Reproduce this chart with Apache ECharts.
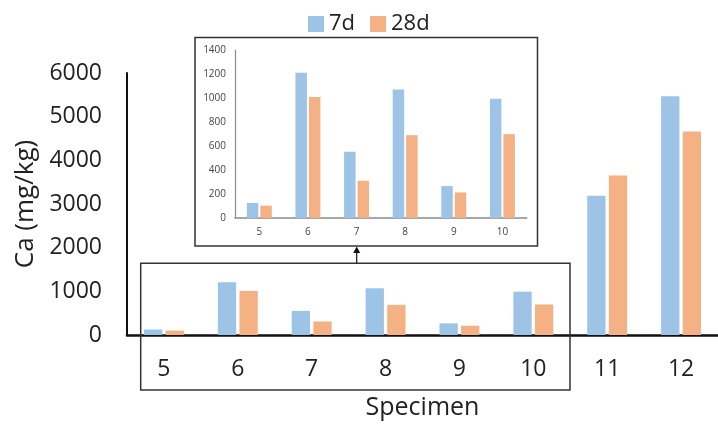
<!DOCTYPE html>
<html>
<head>
<meta charset="utf-8">
<script src="https://cdn.jsdelivr.net/npm/echarts@6/dist/echarts.min.js"></script>
<style>
html,body{margin:0;padding:0;background:#fff;}
#chart{width:718px;height:425px;}
</style>
</head>
<body>
<div id="chart"></div>
<script>
var categories = ['5', '6', '7', '8', '9', '10', '11', '12'];
var insetCategories = ['5', '6', '7', '8', '9', '10'];
var values7d = [125, 1210, 552, 1070, 266, 993, 3190, 5465];
var values28d = [103, 1009, 310, 690, 213, 699, 3655, 4660];
var seriesNames = ['7d', '28d'];
var mainTicks = [0, 1000, 2000, 3000, 4000, 5000, 6000];
var insetTicks = [0, 200, 400, 600, 800, 1000, 1200, 1400];

var BLUE = '#9DC3E6', ORANGE = '#F4B183';
var FONT = 'Open Sans';

var chart = echarts.init(document.getElementById('chart'), null, {renderer: 'canvas'});

function plain(v) { return String(v); }

var option = {
  animation: false,
  backgroundColor: '#ffffff',
  textStyle: {fontFamily: FONT},
  legend: {
    data: seriesNames,
    left: 308,
    top: 13,
    padding: 0,
    itemWidth: 16,
    itemHeight: 16,
    itemGap: 15,
    icon: 'rect',
    textStyle: {fontFamily: FONT, fontSize: 22, color: '#222'}
  },
  grid: [
    {left: 127, top: 73, width: 601.6, height: 265.3, containLabel: false},
    {left: 235, top: 50, width: 291.7, height: 168, containLabel: false}
  ],
  xAxis: [
    {
      type: 'category', gridIndex: 0, data: categories,
      name: 'Specimen', nameLocation: 'middle', nameGap: 60,
      nameTextStyle: {fontFamily: FONT, fontSize: 25, color: '#222'},
      axisLine: {show: true, lineStyle: {color: '#111', width: 2.5}},
      axisTick: {show: false},
      axisLabel: {fontFamily: FONT, fontSize: 23, color: '#222', margin: 23}
    },
    {
      type: 'category', gridIndex: 1, data: insetCategories,
      axisLine: {show: true, lineStyle: {color: '#8a8a8a', width: 1.5}},
      axisTick: {show: false},
      axisLabel: {fontFamily: FONT, fontSize: 10, color: '#444', margin: 9}
    }
  ],
  yAxis: [
    {
      type: 'value', gridIndex: 0, min: mainTicks[0], max: mainTicks[mainTicks.length - 1], interval: 1000,
      name: 'Ca (mg/kg)', nameLocation: 'middle', nameGap: 80, nameRotate: 90,
      nameTextStyle: {fontFamily: FONT, fontSize: 26, color: '#222'},
      axisLine: {show: true, lineStyle: {color: '#111', width: 2}},
      axisTick: {show: false},
      splitLine: {show: false},
      axisLabel: {fontFamily: FONT, fontSize: 23, color: '#222', margin: 25, formatter: plain}
    },
    {
      type: 'value', gridIndex: 1, min: insetTicks[0], max: insetTicks[insetTicks.length - 1], interval: 200,
      axisLine: {show: true, lineStyle: {color: '#8a8a8a', width: 1.2}},
      axisTick: {show: false},
      splitLine: {show: false},
      axisLabel: {fontFamily: FONT, fontSize: 10, color: '#444', margin: 9, formatter: plain}
    }
  ],
  series: [
    {name: seriesNames[0], type: 'bar', xAxisIndex: 0, yAxisIndex: 0, data: values7d,
     barWidth: 18.3, barGap: '18%', itemStyle: {color: BLUE}, z: 1},
    {name: seriesNames[1], type: 'bar', xAxisIndex: 0, yAxisIndex: 0, data: values28d,
     barWidth: 18.3, barGap: '18%', itemStyle: {color: ORANGE}, z: 1},
    {name: seriesNames[0], type: 'bar', xAxisIndex: 1, yAxisIndex: 1, data: values7d.slice(0, 6),
     barWidth: 11.5, barGap: '17%', itemStyle: {color: BLUE}, z: 1},
    {name: seriesNames[1], type: 'bar', xAxisIndex: 1, yAxisIndex: 1, data: values28d.slice(0, 6),
     barWidth: 11.5, barGap: '17%', itemStyle: {color: ORANGE}, z: 1}
  ],
  graphic: [
    {type: 'rect', z: 10, shape: {x: 195, y: 37.5, width: 342.5, height: 208.5},
     style: {fill: null, stroke: '#333', lineWidth: 1.5}},
    {type: 'rect', z: 10, shape: {x: 140.7, y: 263.2, width: 429.3, height: 126.8},
     style: {fill: null, stroke: '#333', lineWidth: 1.5}},
    {type: 'line', z: 10, shape: {x1: 356.7, y1: 263.2, x2: 356.7, y2: 251},
     style: {stroke: '#111', lineWidth: 1.2}},
    {type: 'polygon', z: 10, shape: {points: [[356.7, 246.5], [353.2, 253], [360.2, 253]]},
     style: {fill: '#111'}}
  ]
};
chart.setOption(option);
</script>
</body>
</html>
